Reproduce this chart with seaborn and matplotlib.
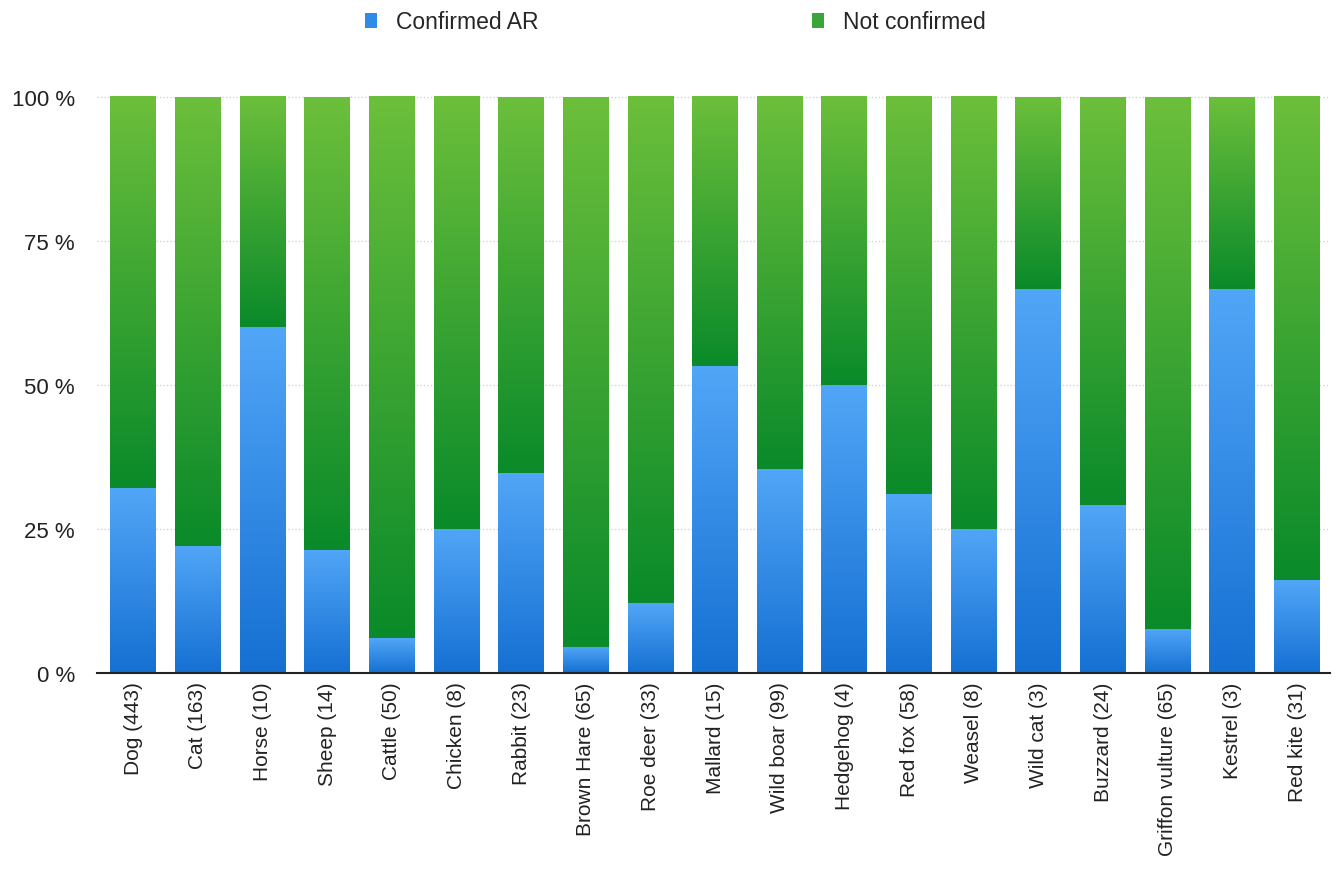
import numpy as np
import pandas as pd
import matplotlib
matplotlib.use("Agg")
import matplotlib.pyplot as plt
from matplotlib.patches import Patch
from matplotlib.colors import LinearSegmentedColormap
import seaborn as sns

categories = ["Dog (443)", "Cat (163)", "Horse (10)", "Sheep (14)", "Cattle (50)",
              "Chicken (8)", "Rabbit (23)", "Brown Hare (65)", "Roe deer (33)",
              "Mallard (15)", "Wild boar (99)", "Hedgehog (4)", "Red fox (58)",
              "Weasel (8)", "Wild cat (3)", "Buzzard (24)", "Griffon vulture (65)",
              "Kestrel (3)", "Red kite (31)"]
confirmed = [32.1, 22.1, 60.0, 21.4, 6.0, 25.0, 34.8, 4.6, 12.1, 53.3, 35.4, 50.0,
             31.0, 25.0, 66.7, 29.2, 7.7, 66.7, 16.1]
not_confirmed = [67.9, 77.9, 40.0, 78.6, 94.0, 75.0, 65.2, 95.4, 87.9, 46.7, 64.6, 50.0,
                 69.0, 75.0, 33.3, 70.8, 92.3, 33.3, 83.9]
y_ticks = [0, 25, 50, 75, 100]
y_tick_labels = ["0 %", "25 %", "50 %", "75 %", "100 %"]
series_names = ["Confirmed AR", "Not confirmed"]

df = pd.DataFrame({"category": categories,
                   "confirmed": confirmed,
                   "total": [c + n for c, n in zip(confirmed, not_confirmed)]})

sns.set_theme(style="white")
plt.rcParams["font.family"] = ["Liberation Sans", "DejaVu Sans"]

fig = plt.figure(figsize=(13.4, 8.78), dpi=100)
ax = fig.add_axes([97 / 1340, 1 - 674 / 878, (1330 - 97) / 1340, (674 - 92.2) / 878])

sns.barplot(data=df, x="category", y="total", color="#3aa63a", width=0.71,
            ax=ax, saturation=1, edgecolor="none", linewidth=0)
n = len(categories)
green_patches = list(ax.patches[:n])
sns.barplot(data=df, x="category", y="confirmed", color="#2f8ae8", width=0.71,
            ax=ax, saturation=1, edgecolor="none", linewidth=0)
blue_patches = list(ax.patches[n:2 * n])

blue_cmap = LinearSegmentedColormap.from_list("b", ["#1570d2", "#52a6f7"])
green_cmap = LinearSegmentedColormap.from_list("g", ["#0a8a2a", "#6cbf3b"])
grad = np.linspace(0, 1, 256).reshape(-1, 1)

for gp, bp in zip(green_patches, blue_patches):
    x0 = bp.get_x()
    x1 = x0 + bp.get_width()
    btop = bp.get_height()
    gtop = gp.get_height()
    gp.set_visible(False)
    bp.set_visible(False)
    if btop > 0:
        ax.imshow(grad, extent=(x0, x1, 0, btop), origin="lower", aspect="auto",
                  cmap=blue_cmap, zorder=2, interpolation="bilinear")
    ax.imshow(grad, extent=(x0, x1, btop, gtop), origin="lower", aspect="auto",
              cmap=green_cmap, zorder=2, interpolation="bilinear")

ax.set_xlim(-0.56, n - 1 + 0.51)
ax.set_ylim(0, 101)

for yv in y_ticks[1:]:
    ax.axhline(yv, color="#d4d4d4", linestyle=(0, (1, 1.5)), linewidth=1, zorder=1)

ax.set_yticks(y_ticks)
ax.set_yticklabels(y_tick_labels, fontsize=16, color="#222222")
ax.set_xticks(range(n))
ax.set_xticklabels(categories, rotation=90, fontsize=15, color="#222222")
ax.tick_params(axis="both", length=0)
ax.tick_params(axis="y", pad=16)
ax.tick_params(axis="x", pad=6)
ax.set_xlabel("")
ax.set_ylabel("")
for s in ["top", "right", "left"]:
    ax.spines[s].set_visible(False)
ax.spines["bottom"].set_color("#222222")
ax.spines["bottom"].set_linewidth(1.5)
ax.spines["bottom"].set_zorder(5)

handles = [Patch(facecolor="#2f8ae8", edgecolor="none"),
           Patch(facecolor="#3aa63a", edgecolor="none")]
fig.legend(handles, series_names, loc="center", bbox_to_anchor=(0.504, 0.974),
           ncol=2, frameon=False, fontsize=16.5, handlelength=0.52, handleheight=0.6,
           handletextpad=0.83, columnspacing=11.9)

fig.savefig("out.png", dpi=100, facecolor="white")
